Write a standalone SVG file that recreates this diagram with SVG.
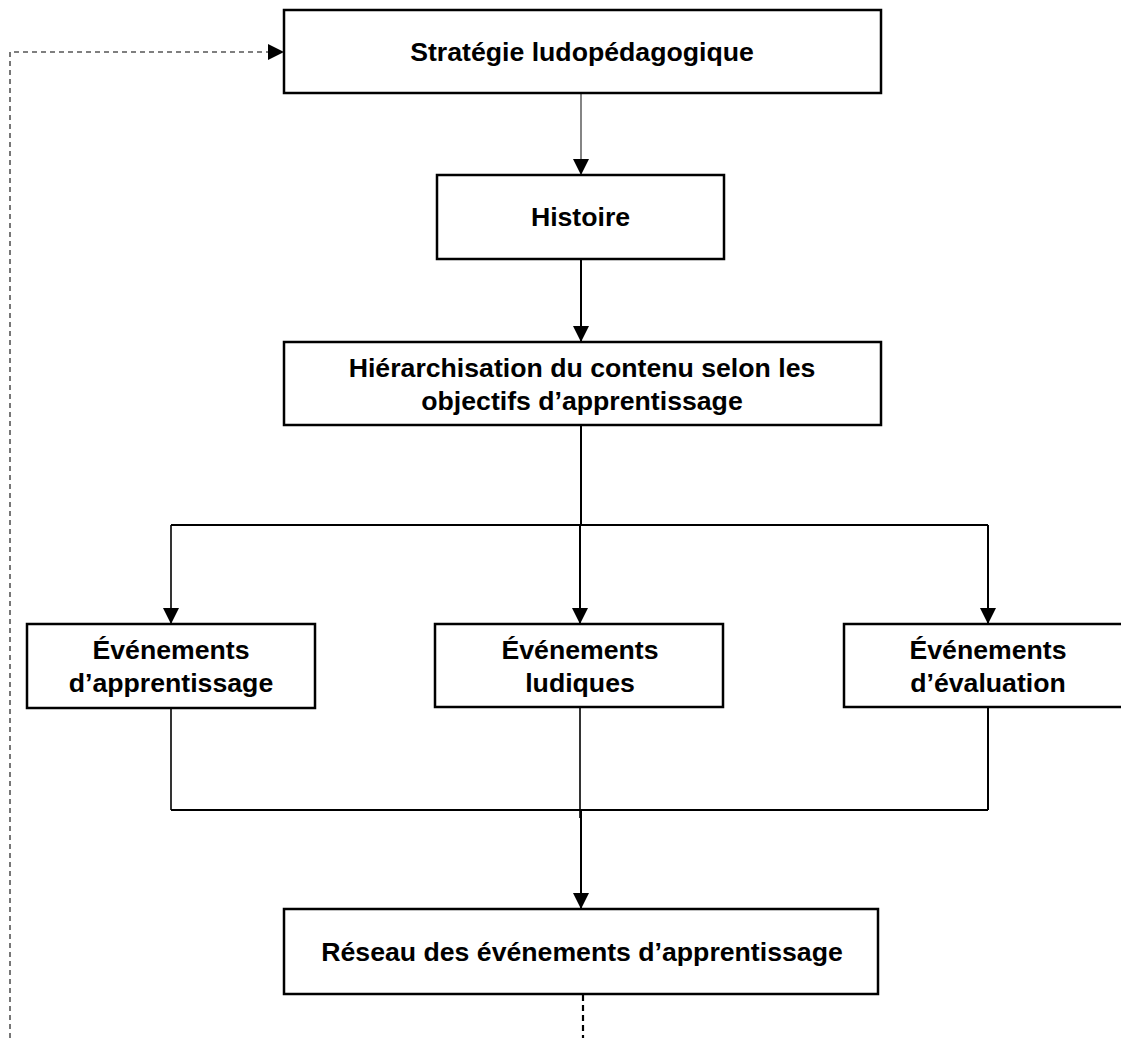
<svg xmlns="http://www.w3.org/2000/svg" width="1121" height="1038" viewBox="0 0 1121 1038">
  <style>
    .box { fill: #ffffff; stroke: #000000; stroke-width: 2.5; }
    .label { font-family: "Liberation Sans", Arial, sans-serif; font-weight: bold; font-size: 26.67px; fill: #000000; text-anchor: middle; }
    .link { fill: none; stroke: #000000; stroke-width: 2; }
    .thin { stroke-width: 1.2; stroke: #333333; }
    .mid { stroke-width: 1.6; }
    .feedback { fill: none; stroke: #555555; stroke-width: 1.6; stroke-dasharray: 5 4; }
    .tail { fill: none; stroke: #000000; stroke-width: 2.2; stroke-dasharray: 6 4; }
  </style>
  <defs>
    <marker id="arrow" viewBox="0 0 16 16" refX="16" refY="8" markerWidth="16" markerHeight="16" markerUnits="userSpaceOnUse" orient="auto">
      <path d="M0,0 L16,8 L0,16 Z" fill="#000000"/>
    </marker>
  </defs>

  <rect width="1121" height="1038" fill="#ffffff"/>

  <!-- connectors -->
  <g id="connectors">
    <line class="link thin" x1="581" y1="93" x2="581" y2="175" marker-end="url(#arrow)"/>
    <line class="link" x1="581" y1="259" x2="581" y2="342" marker-end="url(#arrow)"/>
    <line class="link" x1="581" y1="425" x2="581" y2="525"/>
    <line class="link" x1="171" y1="525" x2="988" y2="525"/>
    <line class="link mid" x1="171" y1="525" x2="171" y2="624" marker-end="url(#arrow)"/>
    <line class="link" x1="580" y1="525" x2="580" y2="624" marker-end="url(#arrow)"/>
    <line class="link" x1="988" y1="525" x2="988" y2="624" marker-end="url(#arrow)"/>
    <line class="link mid" x1="171" y1="708" x2="171" y2="810"/>
    <line class="link mid" x1="580" y1="708" x2="580" y2="818"/>
    <line class="link" x1="988" y1="708" x2="988" y2="810"/>
    <line class="link" x1="171" y1="810" x2="988" y2="810"/>
    <line class="link" x1="581" y1="810" x2="581" y2="909" marker-end="url(#arrow)"/>
    <line class="tail" x1="583" y1="995" x2="583" y2="1038"/>
    <path class="feedback" d="M10,1038 L10,52 L284,52" marker-end="url(#arrow)"/>
  </g>

  <!-- nodes -->
  <g id="strategie">
    <rect class="box" x="284" y="10" width="597" height="83"/>
    <text class="label" x="582" y="61">Stratégie ludopédagogique</text>
  </g>

  <g id="histoire">
    <rect class="box" x="437" y="175" width="287" height="84"/>
    <text class="label" x="580.5" y="226">Histoire</text>
  </g>

  <g id="hierarchisation">
    <rect class="box" x="284" y="342" width="597" height="83"/>
    <text class="label" x="582" y="377">Hiérarchisation du contenu selon les</text>
    <text class="label" x="582" y="410">objectifs d’apprentissage</text>
  </g>

  <g id="evenements-apprentissage">
    <rect class="box" x="27" y="624" width="288" height="84"/>
    <text class="label" x="171" y="659">Événements</text>
    <text class="label" x="171" y="692">d’apprentissage</text>
  </g>

  <g id="evenements-ludiques">
    <rect class="box" x="435" y="624" width="288" height="83"/>
    <text class="label" x="580" y="659">Événements</text>
    <text class="label" x="580" y="692">ludiques</text>
  </g>

  <g id="evenements-evaluation">
    <rect class="box" x="844" y="624" width="288" height="83"/>
    <text class="label" x="988" y="659">Événements</text>
    <text class="label" x="988" y="692">d’évaluation</text>
  </g>

  <g id="reseau">
    <rect class="box" x="284" y="909" width="594" height="85"/>
    <text class="label" x="582" y="961">Réseau des événements d’apprentissage</text>
  </g>
</svg>
